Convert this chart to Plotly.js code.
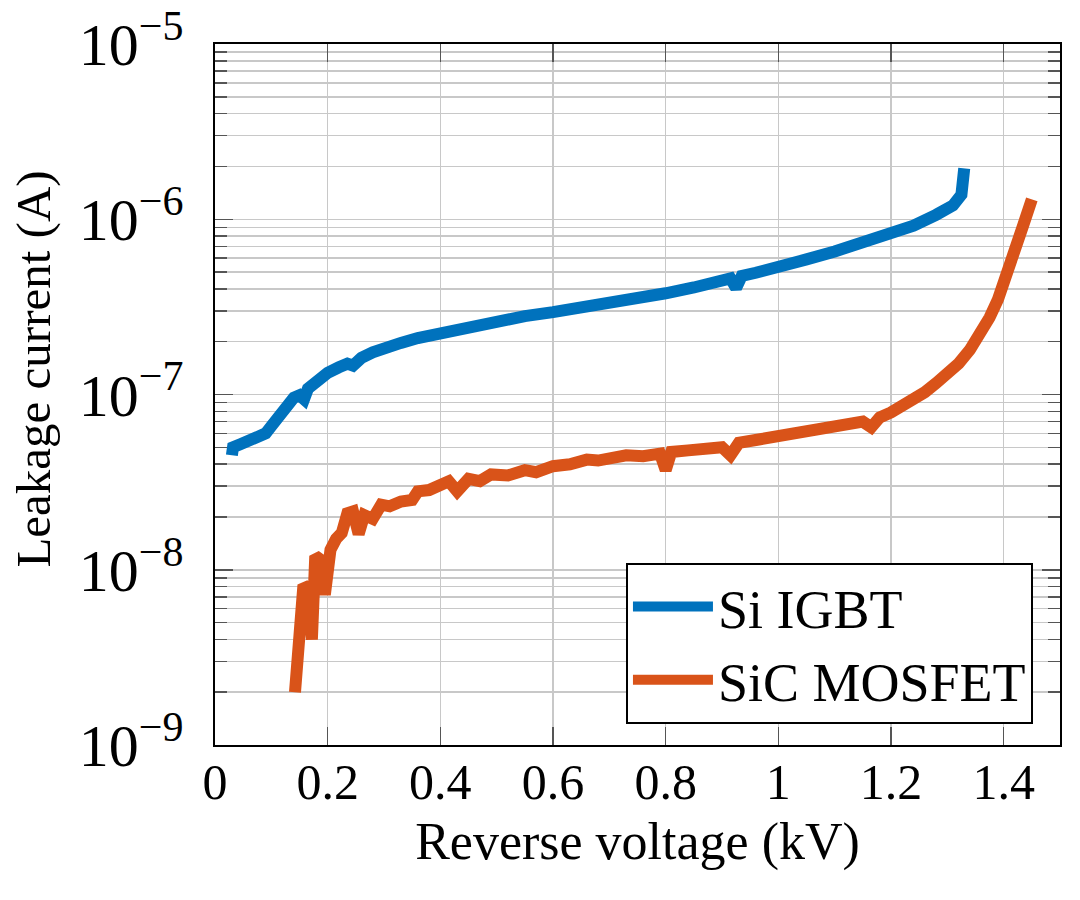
<!DOCTYPE html>
<html>
<head>
<meta charset="utf-8">
<script src="https://cdn.plot.ly/plotly-3.0.1.min.js"></script>
<style>
  body { margin: 0; background: #fff; }
  #chart { width: 1080px; height: 900px; }
</style>
</head>
<body>
<div id="chart"></div>
<script>
// series names and axis titles
const seriesNames = ["Si IGBT", "SiC MOSFET"];
const xTitle = "Reverse voltage (kV)";
const yTitle = "Leakage current (A)";

// Si IGBT: reverse voltage (kV) and leakage current (A)
const igbtVoltage = [0.030, 0.032, 0.045, 0.06, 0.075, 0.09, 0.10, 0.115, 0.13, 0.14,
  0.15, 0.158, 0.165, 0.18, 0.20, 0.22, 0.235, 0.245, 0.26, 0.28,
  0.30, 0.33, 0.36, 0.40, 0.45, 0.50, 0.55, 0.60, 0.65, 0.70,
  0.75, 0.80, 0.85, 0.90, 0.915, 0.925, 0.935, 0.96, 1.00, 1.05,
  1.10, 1.15, 1.20, 1.24, 1.28, 1.31, 1.325, 1.328, 1.33];
const igbtCurrent = [4.5e-8, 5.0e-8, 5.2e-8, 5.5e-8, 5.8e-8, 6.0e-8, 6.6e-8, 7.8e-8, 8.9e-8, 9.6e-8,
  9.9e-8, 9.4e-8, 1.08e-7, 1.2e-7, 1.33e-7, 1.43e-7, 1.5e-7, 1.46e-7, 1.62e-7, 1.74e-7,
  1.85e-7, 1.97e-7, 2.1e-7, 2.25e-7, 2.45e-7, 2.62e-7, 2.8e-7, 2.95e-7, 3.12e-7, 3.32e-7,
  3.52e-7, 3.78e-7, 4.08e-7, 4.45e-7, 4.6e-7, 4.05e-7, 4.75e-7, 4.95e-7, 5.3e-7, 5.9e-7,
  6.55e-7, 7.3e-7, 8.2e-7, 9.2e-7, 1.06e-6, 1.2e-6, 1.38e-6, 1.6e-6, 1.95e-6];

// SiC MOSFET: reverse voltage (kV) and leakage current (A)
const mosfetVoltage = [0.142, 0.150, 0.157, 0.165, 0.172, 0.178, 0.186, 0.195, 0.205, 0.215,
  0.225, 0.235, 0.245, 0.255, 0.265, 0.28, 0.295, 0.31, 0.33, 0.35,
  0.36, 0.38, 0.40, 0.415, 0.43, 0.45, 0.47, 0.49, 0.52, 0.55,
  0.57, 0.58, 0.60, 0.63, 0.66, 0.68, 0.70, 0.73, 0.76, 0.79,
  0.80, 0.81, 0.84, 0.87, 0.90, 0.915, 0.93, 0.96, 1.00, 1.04,
  1.08, 1.12, 1.15, 1.165, 1.18, 1.20, 1.215, 1.24, 1.26, 1.28,
  1.30, 1.32, 1.34, 1.36, 1.375, 1.39, 1.405, 1.42, 1.435, 1.45];
const mosfetCurrent = [2.0e-9, 5.0e-9, 8.2e-9, 7.8e-9, 4.0e-9, 1.2e-8, 1.15e-8, 7.2e-9, 1.3e-8, 1.5e-8,
  1.62e-8, 2.1e-8, 2.15e-8, 1.6e-8, 2.05e-8, 1.95e-8, 2.35e-8, 2.3e-8, 2.45e-8, 2.5e-8,
  2.8e-8, 2.85e-8, 3.1e-8, 3.2e-8, 2.8e-8, 3.3e-8, 3.2e-8, 3.5e-8, 3.45e-8, 3.7e-8,
  3.6e-8, 3.75e-8, 3.9e-8, 4.0e-8, 4.25e-8, 4.2e-8, 4.35e-8, 4.5e-8, 4.45e-8, 4.6e-8,
  3.7e-8, 4.7e-8, 4.8e-8, 4.95e-8, 5.0e-8, 4.5e-8, 5.3e-8, 5.5e-8, 5.8e-8, 6.0e-8,
  6.3e-8, 6.7e-8, 7.0e-8, 6.5e-8, 7.4e-8, 7.9e-8, 8.4e-8, 9.3e-8, 1.03e-7, 1.16e-7,
  1.32e-7, 1.5e-7, 1.8e-7, 2.25e-7, 2.75e-7, 3.5e-7, 4.7e-7, 6.6e-7, 9.3e-7, 1.3e-6];

const serif = "Liberation Serif, Times New Roman, serif";

var traces = [
  {
    x: igbtVoltage,
    y: igbtCurrent,
    name: seriesNames[0],
    type: "scatter",
    mode: "lines",
    line: { color: "#0072BD", width: 12 }
  },
  {
    x: mosfetVoltage,
    y: mosfetCurrent,
    name: seriesNames[1],
    type: "scatter",
    mode: "lines",
    line: { color: "#D95319", width: 12 }
  }
];

var layout = {
  width: 1080,
  height: 900,
  margin: { l: 215, r: 20, t: 44, b: 155 },
  paper_bgcolor: "#ffffff",
  plot_bgcolor: "#ffffff",
  font: { family: serif, color: "#000000" },
  showlegend: true,
  legend: {
    x: 0.968,
    y: 0.03,
    xanchor: "right",
    yanchor: "bottom",
    bgcolor: "#ffffff",
    bordercolor: "#000000",
    borderwidth: 2,
    font: { family: serif, size: 54 },
    itemwidth: 80
  },
  xaxis: {
    range: [0, 1.5],
    tick0: 0,
    dtick: 0.2,
    ticks: "inside",
    ticklen: 18,
    tickwidth: 1.5,
    tickcolor: "#555555",
    showgrid: true,
    gridcolor: "#c8c8c8",
    gridwidth: 1.5,
    zeroline: false,
    showline: true,
    linecolor: "#000000",
    linewidth: 2,
    mirror: "allticks",
    ticklabelstandoff: -8,
    tickfont: { family: serif, size: 50 },
    title: { text: xTitle, font: { family: serif, size: 52 }, standoff: 14 }
  },
  yaxis: {
    type: "log",
    range: [-9, -5],
    dtick: 1,
    exponentformat: "power",
    showexponent: "all",
    ticks: "inside",
    ticklen: 18,
    tickwidth: 1.5,
    tickcolor: "#555555",
    showgrid: true,
    gridcolor: "#c8c8c8",
    gridwidth: 1.5,
    zeroline: false,
    showline: true,
    linecolor: "#000000",
    linewidth: 2,
    mirror: "allticks",
    ticklabelstandoff: 20,
    tickfont: { family: serif, size: 48 },
    minor: {
      dtick: "D1",
      ticks: "inside",
      ticklen: 12,
      tickwidth: 1.5,
      tickcolor: "#555555",
      showgrid: true,
      gridcolor: "#c8c8c8",
      gridwidth: 1.5
    }
  },
  // y title placed as a rotated annotation so it sits where the reference has it
  annotations: [
    {
      text: yTitle,
      textangle: -90,
      xref: "paper",
      yref: "paper",
      x: -0.215,
      y: 0.536,
      xanchor: "center",
      yanchor: "middle",
      showarrow: false,
      font: { family: serif, size: 49 }
    }
  ]
};

Plotly.newPlot("chart", traces, layout, { displayModeBar: false, staticPlot: true });
</script>
</body>
</html>
